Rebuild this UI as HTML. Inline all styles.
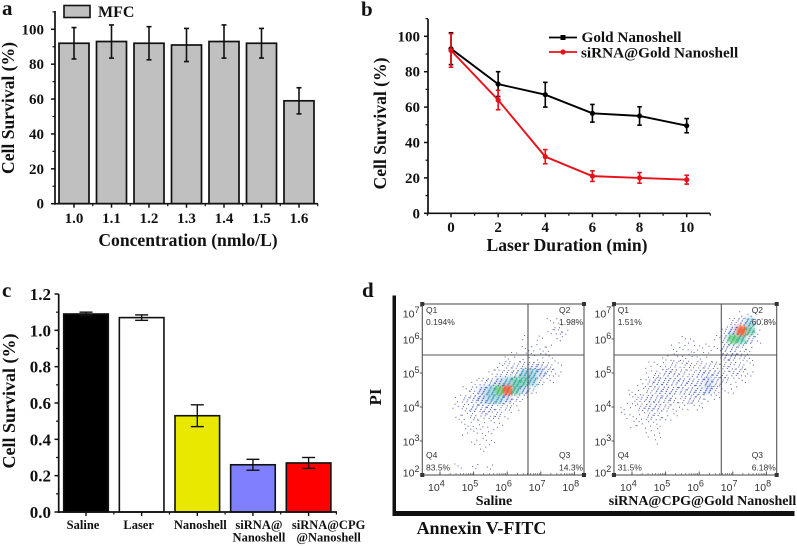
<!DOCTYPE html>
<html lang="en">
<head>
<meta charset="utf-8">
<title>Cell survival figure</title>
<style>
html,body{margin:0;padding:0;background:#fff;width:797px;height:546px;overflow:hidden}
svg{display:block}
text{font-family:"Liberation Serif",serif;font-weight:bold;fill:#111}
.sans{font-family:"Liberation Sans",sans-serif;font-weight:normal;fill:#333}
.tick{font-size:15px;text-anchor:end}
.xt{font-size:15px;text-anchor:middle}
.title{font-size:17.6px;text-anchor:middle}
.panel{font-size:21px}
.cat{font-size:12.5px;text-anchor:middle}
</style>
</head>
<body>
<svg id="fig" xmlns="http://www.w3.org/2000/svg" width="797" height="546" viewBox="0 0 797 546">
<defs><filter id="soft" x="-10%" y="-10%" width="120%" height="120%"><feGaussianBlur stdDeviation="2.2"/></filter></defs>

<g id="chartA">
<text class="panel" x="2" y="15">a</text>
<text class="title" transform="translate(14,108) rotate(-90)">Cell Survival (%)</text>
<text class="title" x="188" y="246">Concentration (nmlo/L)</text>
<rect x="64" y="5.5" width="26" height="12" fill="#c0c0c0" stroke="#111" stroke-width="1.6"/>
<text x="98" y="17" font-size="16">MFC</text>
</g>

<g id="chartB">
<text class="panel" x="361" y="16">b</text>
<text class="title" transform="translate(386,123.5) rotate(-90)">Cell Survival (%)</text>
<text class="title" x="567" y="251">Laser Duration (min)</text>
<text x="581.5" y="42" font-size="15.2">Gold Nanoshell</text>
<text x="581" y="57.5" font-size="15.2">siRNA@Gold Nanoshell</text>
</g>

<g id="chartC">
<text class="panel" x="2" y="297">c</text>
<text class="title" style="font-size:18px" transform="translate(15,401) rotate(-90)">Cell Survival (%)</text>
</g>

<g id="chartD">
<text class="panel" x="362" y="297">d</text>
<text transform="translate(381,397) rotate(-90)" font-size="17" text-anchor="middle">PI</text>
<rect x="392.5" y="295.5" width="3.5" height="220" fill="#111"/>
<rect x="392.5" y="511" width="402" height="5" fill="#111"/>
<text x="481.5" y="534" font-size="18" text-anchor="middle">Annexin V-FITC</text>
<text x="494" y="505" font-size="14" text-anchor="middle">Saline</text>
<text x="702.5" y="505" font-size="14" text-anchor="middle">siRNA@CPG@Gold Nanoshell</text>
</g>
</svg>

<script>
// ---- panel a data
const aCategories = ['1.0','1.1','1.2','1.3','1.4','1.5','1.6'];
const aValues = [92,93,92,91,93,92,59];
const aErrors = [9,9.5,9.5,9.5,9.5,8.5,7.5];
const aYTicks = [0,20,40,60,80,100];
// ---- panel b data
const bTimes = [0,2,4,6,8,10];
const bGold = [93,73,67,56.5,55,49.5];
const bGoldErr = [9,7,7,5,5.2,4];
const bSirna = [92,64,32,21,20,19];
const bSirnaErr = [9.5,5.5,4,3,3,2.5];
const bYTicks = [0,20,40,60,80,100];
// ---- panel c data
const cCategories = [['Saline'],['Laser'],['Nanoshell'],['siRNA@','Nanoshell'],['siRNA@CPG','@Nanoshell']];
const cValues = [1.09,1.07,0.53,0.26,0.27];
const cErrors = [0.01,0.015,0.06,0.03,0.03];
const cColors = ['#000000','#ffffff','#e8e800','#8080ff','#ff0000'];
const cYTicks = [0,0.2,0.4,0.6,0.8,1.0,1.2];
// ---- panel d data: event density read by eye; columns log10 x 3.5..8.25, rows log10 y 7..2.25
const dDecadesX = [4,5,6,7,8];
const dDecadesY = [2,3,4,5,6,7];
const salineQuadrants = ['0.194%','1.98%','14.3%','83.5%'];
const sirnaQuadrants = ['1.51%','60.8%','6.18%','31.5%'];
const salineDensity = [
[0,0,0,0,0,0,0,0,0,0,0,0,0,0,0,0,0,0,0,0],
[0,0,0,0,0,0,0,0,0,0,0,0,0,0,0,0,0,0,0,0],
[0,0,0,0,0,0,0,0,0,0,0,0,0,0,0,1,1,0,0,0],
[0,0,0,0,0,0,0,0,0,0,0,0,0,0,0,1,2,1,0,0],
[0,0,0,0,0,0,0,0,0,0,0,0,1,0,1,0,1,0,0,0],
[0,0,0,0,0,0,0,0,0,0,0,0,1,1,1,1,0,0,0,0],
[0,0,0,0,0,0,0,0,0,0,1,1,1,1,1,1,0,0,0,0],
[0,0,0,0,0,0,0,0,0,1,2,2,2,3,3,2,1,0,0,0],
[0,0,0,0,0,0,0,0,1,2,2,3,5,5,4,2,1,0,0,0],
[0,0,0,0,0,0,1,2,3,4,5,6,6,5,2,1,0,0,0,0],
[0,0,0,0,0,1,2,4,5,7,9,6,4,2,0,0,0,0,0,0],
[0,0,0,0,1,2,3,4,5,5,4,2,1,0,0,0,0,0,0,0],
[0,0,0,0,1,2,3,3,3,2,2,1,0,0,0,0,0,0,0,0],
[0,0,0,0,1,1,2,2,2,2,1,0,0,0,0,0,0,0,0,0],
[0,0,0,0,0,1,1,1,1,1,0,0,0,0,0,0,0,0,0,0],
[0,0,0,0,0,1,1,1,1,0,0,0,0,0,0,0,0,0,0,0],
[0,0,0,0,0,0,1,1,1,0,0,0,0,0,0,0,0,0,0,0],
[0,0,0,0,0,0,0,1,0,0,0,0,0,0,0,0,0,0,0,0],
[0,0,0,0,0,0,0,0,0,0,0,0,0,0,0,0,0,0,0,0],
[0,0,0,0,1,0,1,0,1,0,0,0,0,0,0,0,0,0,0,0]
];
const sirnaDensity = [
[0,0,0,0,0,0,0,0,0,0,0,0,0,0,0,0,0,0,0,0],
[0,0,0,0,0,0,0,0,0,0,0,0,0,0,0,1,1,0,0,0],
[0,0,0,0,0,0,0,0,0,0,0,0,0,0,2,3,5,1,0,0],
[0,0,0,0,0,0,0,0,0,0,0,0,0,2,4,9,6,1,0,0],
[0,0,0,0,0,0,0,0,1,1,0,0,1,3,7,6,3,1,0,0],
[0,0,0,0,0,0,0,1,1,1,1,1,1,3,3,2,1,0,0,0],
[0,0,0,0,0,0,1,1,1,1,1,1,0,3,3,2,1,0,0,0],
[0,0,0,0,1,1,1,2,2,2,2,2,2,2,2,2,1,0,0,0],
[0,0,0,0,1,2,3,3,2,2,3,3,3,2,2,2,1,0,0,0],
[0,0,0,1,2,3,3,3,3,3,3,4,3,2,1,1,0,0,0,0],
[0,0,1,1,2,3,3,3,3,3,3,4,2,1,1,0,0,0,0,0],
[0,0,1,2,3,3,3,2,2,3,2,1,1,0,0,0,0,0,0,0],
[0,1,1,2,3,3,2,1,1,1,1,0,0,0,0,0,0,0,0,0],
[0,1,1,1,2,2,1,1,0,0,0,0,0,0,0,0,0,0,0,0],
[0,0,1,1,1,1,0,0,0,0,0,0,0,0,0,0,0,0,0,0],
[0,0,0,0,1,1,0,0,0,0,0,0,0,0,0,0,0,0,0,0],
[0,0,0,0,0,1,0,0,0,0,0,0,0,0,0,0,0,0,0,0],
[0,0,0,0,0,0,0,0,0,0,0,0,0,0,0,0,0,0,0,0],
[0,0,0,0,0,0,0,0,0,0,0,0,0,0,0,0,0,0,0,0],
[0,0,0,0,0,0,0,0,0,0,0,0,0,0,0,0,0,0,0,0]
];

// ---- helpers
const NS = 'http://www.w3.org/2000/svg';
function mk(parent, tag, attrs, txt) {
  const el = document.createElementNS(NS, tag);
  for (const k in attrs) el.setAttribute(k, attrs[k]);
  if (txt !== undefined) el.textContent = txt;
  parent.appendChild(el);
  return el;
}
function line(parent, x1, y1, x2, y2, w, color, name) {
  const el = mk(parent, 'line', {x1, y1, x2, y2, stroke: color || '#111', 'stroke-width': w});
  
  
  return el;
}
function label(parent, cls, x, y, s, name) {
  const el = mk(parent, 'text', {class: cls, x, y}, s);
  
  
  return el;
}
function errorBar(parent, x, yHi, yLo, cap, w, color, name) {
  const g = mk(parent, 'g', {});
  
  
  line(g, x, yHi, x, yLo, w, color, name + '-stem');
  line(g, x - cap, yHi, x + cap, yHi, w, color, name + '-cap-top');
  line(g, x - cap, yLo, x + cap, yLo, w, color, name + '-cap-bottom');
}

// ---- panel a
const gA = document.getElementById('chartA');
const xA = i => 74 + 37.5 * i;
const yA = v => 203.7 - v * 1.744;
aValues.forEach((v, i) => {
  const bar = mk(gA, 'rect', {x: xA(i) - 15, y: yA(v), width: 30, height: yA(0) - yA(v), fill: '#c0c0c0', stroke: '#111', 'stroke-width': 1.7});
  
  
  errorBar(gA, xA(i), yA(v + aErrors[i]), yA(v - aErrors[i]), 2.5, 1.6, '#111', 'error-bar-' + aCategories[i]);
  label(gA, 'xt', xA(i), 223, aCategories[i], 'x-tick-label-' + aCategories[i]);
  line(gA, xA(i), yA(0), xA(i), yA(0) + 4, 1.5, '#111', 'x-tick');
  line(gA, xA(i) + 18.75, yA(0), xA(i) + 18.75, yA(0) + 2.5, 1.2, '#111', 'x-minor-tick');
});
line(gA, 55, 11, 55, yA(0) + 1, 1.7, '#111', 'y-axis-a');
line(gA, 54, yA(0), 318, yA(0), 1.7, '#111', 'x-axis-a');
aYTicks.forEach(v => {
  line(gA, 51, yA(v), 55, yA(v), 1.5, '#111', 'y-tick');
  line(gA, 52.5, yA(v + 10), 55, yA(v + 10), 1.2, '#111', 'y-minor-tick');
  label(gA, 'tick', 44, yA(v) + 5, String(v), 'y-tick-label-' + v);
});

// ---- panel b
const gB = document.getElementById('chartB');
const xB = v => 451 + v * 23.57;
const yB = v => 213.3 - v * 1.77;
line(gB, 428, 19, 428, yB(0) + 1, 1.7, '#111', 'y-axis-b');
line(gB, 427, yB(0), 710, yB(0), 1.7, '#111', 'x-axis-b');
bYTicks.forEach(v => {
  line(gB, 424, yB(v), 428, yB(v), 1.5, '#111', 'y-tick');
  line(gB, 425.5, yB(v + 10), 428, yB(v + 10), 1.2, '#111', 'y-minor-tick');
  label(gB, 'tick', 420, yB(v) + 5, String(v), 'y-tick-label-' + v);
});
bTimes.forEach(t => {
  line(gB, xB(t), yB(0), xB(t), yB(0) + 4, 1.5, '#111', 'x-tick');
  line(gB, xB(t + 1), yB(0), xB(t + 1), yB(0) + 2.5, 1.2, '#111', 'x-minor-tick');
  label(gB, 'xt', xB(t), 232, String(t), 'x-tick-label-' + t);
});
line(gB, xB(-1), yB(0), xB(-1), yB(0) + 2.5, 1.2, '#111', 'x-minor-tick');
function series(vals, errs, color, name) {
  const g = mk(gB, 'g', {});
  
  
  const l = mk(g, 'polyline', {points: vals.map((v, i) => xB(bTimes[i]) + ',' + yB(v)).join(' '), fill: 'none', stroke: color, 'stroke-width': 1.9});
  
  
  vals.forEach((v, i) => {
    errorBar(g, xB(bTimes[i]), yB(v + errs[i]), yB(v - errs[i]), 2.3, 1.6, color, name + '-error-' + bTimes[i]);
    const p = mk(g, 'circle', {cx: xB(bTimes[i]), cy: yB(v), r: 2.6, fill: color});
    
    
  });
}
series(bGold, bGoldErr, '#000', 'gold-nanoshell-series');
series(bSirna, bSirnaErr, '#e8101a', 'sirna-series');
line(gB, 549, 37.5, 577, 37.5, 1.8, '#000', 'legend-line-gold');
const lmGold = mk(gB, 'rect', {x: 560.5, y: 35, width: 5, height: 5, fill: '#000'});


line(gB, 549, 52, 577, 52, 1.8, '#e8101a', 'legend-line-sirna');
const lmSi = mk(gB, 'circle', {cx: 563, cy: 52, r: 2.6, fill: '#e8101a'});



// ---- panel c
const gC = document.getElementById('chartC');
const xC = i => 86 + 55.65 * i;
const yC = v => 512 - v * 181.67;
cValues.forEach((v, i) => {
  const bar = mk(gC, 'rect', {x: xC(i) - 22.3, y: yC(v), width: 44.6, height: yC(0) - yC(v), fill: cColors[i], stroke: '#111', 'stroke-width': 1.6});
  
  
  errorBar(gC, xC(i), yC(v + cErrors[i]), yC(v - cErrors[i]), 6.5, 1.4, '#111', 'error-bar-' + i);
  line(gC, xC(i), yC(0), xC(i), yC(0) + 4, 1.4, '#111', 'x-tick');
  line(gC, xC(i) + 27.8, yC(0), xC(i) + 27.8, yC(0) + 2.5, 1.2, '#111', 'x-minor-tick');
  cCategories[i].forEach((s, j) => {
    label(gC, 'cat', xC(i) + [-3, -3, 3, 6, 20][i], 529 + j * 12.7, s, 'x-tick-label-' + s);
  });
});
line(gC, 58.7, 294, 58.7, yC(0) + 1, 1.7, '#111', 'y-axis-c');
line(gC, 58, yC(0), 337, yC(0), 1.7, '#111', 'x-axis-c');
cYTicks.forEach((v, i) => {
  line(gC, 54.5, yC(v), 58.7, yC(v), 1.5, '#111', 'y-tick');
  if (i < cYTicks.length - 1) line(gC, 56, yC(v + 0.1), 58.7, yC(v + 0.1), 1.2, '#111', 'y-minor-tick');
  label(gC, 'tick', 51, yC(v) + 6, v.toFixed(1), 'y-tick-label-' + v.toFixed(1));
});
gC.querySelectorAll('.tick').forEach(t => { t.style.fontSize = '17px'; });

// ---- panel d
const gD = document.getElementById('chartD');
const dotCounts = [0, 3, 7, 13, 20, 27, 34, 40, 48, 56];
const dotColors = ['', '#2a3596', '#2a3596', '#2a3fae', '#2a50bc', '#1f88b0', '#20a888', '#38bc60', '#d8d030', '#f05a30'];
const glowOpacity = [0, 0, 0, 0, 0.12, 0.3, 0.5, 0.65, 0.8, 0.9];
const yD = l => 373 + (5 - l) * 34;
function flowPlot(x0, x1, cross, originX, density, quads, name) {
  const xD = l => originX + (l - 4) * 33.6;
  const top = 304, bottom = 475;
  const g = mk(gD, 'g', {});
  
  
  const glow = mk(g, 'g', {filter: 'url(#soft)'});
  
  
  density.forEach((row, r) => row.forEach((d, c) => {
    if (!d) return;
    const lx = 3.5 + c * 0.25, ly = 7 - r * 0.25;
    const cx = xD(lx), cy = yD(ly);
    if (glowOpacity[d] > 0) {
      const s = mk(glow, 'rect', {x: cx - 4.5, y: cy - 4.5, width: 9, height: 9, fill: dotColors[d], opacity: glowOpacity[d]});
      
      
    }
    let p = '';
    for (let i = 0; i < dotCounts[d]; i++) {
      const fx = (i * 0.61803 + c * 0.37 + r * 0.71) % 1;
      const fy = (i * 0.75488 + c * 0.53 + r * 0.29) % 1;
      p += 'M' + (cx - 4.2 + fx * 8.4).toFixed(1) + ' ' + (cy - 4.2 + fy * 8.4).toFixed(1) + 'h1v1h-1z';
    }
    const cell = mk(g, 'path', {d: p, fill: dotColors[d], opacity: 0.8});
    
    
  }));
  const frame = mk(g, 'rect', {x: x0, y: top, width: x1 - x0, height: bottom - top, fill: 'none', stroke: '#555', 'stroke-width': 1.1});
  
  
  line(g, cross, top, cross, bottom, 1.1, '#555', name + '-vertical-gate');
  line(g, x0, 355, x1, 355, 1.1, '#555', name + '-horizontal-gate');
  [[x0, top], [x1, top], [x0, bottom], [x1, bottom]].forEach(pt => {
    const k = mk(g, 'rect', {x: pt[0] - 2, y: pt[1] - 2, width: 4, height: 4, fill: '#333'});
    
    
  });
  const minor = [2, 3, 4, 5, 6, 7, 8, 9];
  dDecadesX.forEach(dec => {
    const px = xD(dec);
    line(g, px, bottom, px, bottom - 3.5, 0.9, '#444', 'x-tick');
    if (dec < 8) minor.forEach(m => line(g, xD(dec + Math.log10(m)), bottom, xD(dec + Math.log10(m)), bottom - 2, 0.6, '#555', 'x-minor-tick'));
    const t = mk(g, 'text', {class: 'sans', x: px - 12, y: 491, 'font-size': 10.5});
    
    
    t.textContent = '10';
    const sup = mk(t, 'tspan', {dy: -4.5, 'font-size': 9}, String(dec));
    
    
  });
  dDecadesY.forEach(dec => {
    const py = Math.max(313, Math.min(472, yD(dec)));
    line(g, x0, yD(Math.min(dec, 6.97)), x0 - 2.5, yD(Math.min(dec, 6.97)), 0.9, '#444', 'y-tick');
    const t = mk(g, 'text', {class: 'sans', x: x0 - 19.5, y: py + 4.5, 'font-size': 10.5});
    
    
    t.textContent = '10';
    const sup = mk(t, 'tspan', {dy: -4.5, 'font-size': 9}, String(dec));
    
    
  });
  const qx = x0 + 3.7, qr = x1 - 25;
  const place = [['Q1', qx, 313, 325], ['Q2', qr, 313, 325], ['Q3', qr, 458, 470.5], ['Q4', qx, 458, 470.5]];
  place.forEach((q, i) => {
    const a = mk(g, 'text', {class: 'sans', x: q[1], y: q[2], 'font-size': 8.5}, q[0]);
    
    
    const b = mk(g, 'text', {class: 'sans', x: q[1], y: q[3], 'font-size': 8.5}, quads[i]);
    
    
  });
}
flowPlot(422.3, 584, 528, 440, salineDensity, salineQuadrants, 'saline-flow-plot');
flowPlot(614, 776.7, 721.3, 632, sirnaDensity, sirnaQuadrants, 'sirna-flow-plot');
</script>
</body>
</html>
